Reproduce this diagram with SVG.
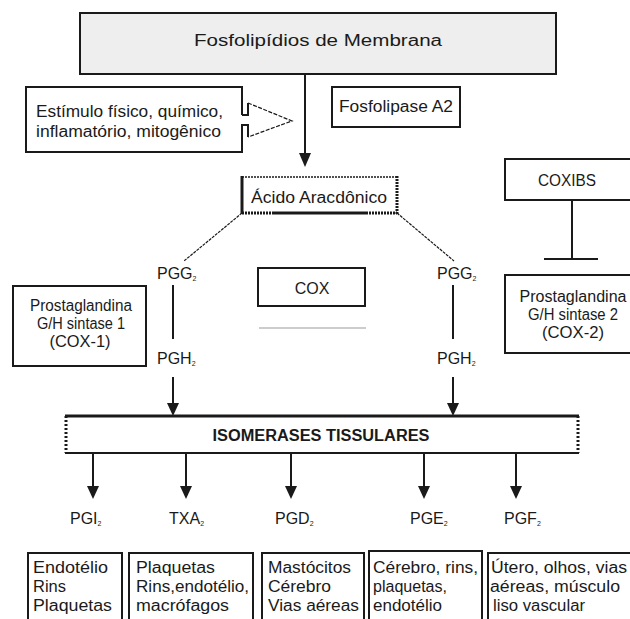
<svg xmlns="http://www.w3.org/2000/svg" width="630" height="619" viewBox="0 0 630 619">
<style>
text{font-family:"Liberation Sans",Arial,sans-serif;fill:#1a1a1a;font-size:16px}
.box{fill:#fff;stroke:#1a1a1a;stroke-width:2}
.ln{stroke:#1a1a1a;stroke-width:2;fill:none}
.thin{stroke:#1a1a1a;stroke-width:1.2;fill:none}
.c{text-anchor:middle}
.sub{font-size:7px}
.bt{font-size:16px}
</style>

<g id="connectors">
<line class="ln" x1="305" y1="74" x2="305" y2="154"/>
<path d="M299,153 L311,153 L305,167 Z" fill="#1a1a1a"/>
<line class="thin" x1="242" y1="213" x2="184" y2="261" stroke-dasharray="3,1"/>
<line class="thin" x1="397" y1="213" x2="454" y2="261" stroke-dasharray="3,1"/>
<line class="ln" x1="173" y1="285" x2="173" y2="339"/>
<line class="ln" x1="453" y1="285" x2="453" y2="339"/>
<line class="ln" x1="173" y1="377" x2="173" y2="404"/>
<path d="M167,403 L179,403 L173,416 Z" fill="#1a1a1a"/>
<line class="ln" x1="453" y1="377" x2="453" y2="404"/>
<path d="M447,403 L459,403 L453,416 Z" fill="#1a1a1a"/>
<line class="ln" x1="572" y1="200" x2="572" y2="259"/>
<line class="ln" x1="544" y1="259" x2="598" y2="259"/>
<line class="ln" x1="93" y1="453" x2="93" y2="487"/>
<path d="M87,486 L99,486 L93,499 Z" fill="#1a1a1a"/>
<line class="ln" x1="186" y1="453" x2="186" y2="487"/>
<path d="M180,486 L192,486 L186,499 Z" fill="#1a1a1a"/>
<line class="ln" x1="291" y1="453" x2="291" y2="487"/>
<path d="M285,486 L297,486 L291,499 Z" fill="#1a1a1a"/>
<line class="ln" x1="424" y1="453" x2="424" y2="487"/>
<path d="M418,486 L430,486 L424,499 Z" fill="#1a1a1a"/>
<line class="ln" x1="516" y1="453" x2="516" y2="487"/>
<path d="M510,486 L522,486 L516,499 Z" fill="#1a1a1a"/>
</g>

<g id="fosfolipidios">
<rect x="80" y="13" width="476" height="61" fill="#eeeeee" stroke="#1a1a1a" stroke-width="2"/>
<text x="318" y="46" class="c" font-size="19" textLength="248" lengthAdjust="spacingAndGlyphs">Fosfolipídios de Membrana</text>
</g>

<g id="estimulo">
<path class="ln" d="M242,115 L242,87 L26,87 L26,152 L242,152 L242,125 L248,125 L248,137 M248,103 L248,115 L242,115"/>
<path class="thin" d="M248,103 L292,121 L248,137" stroke-dasharray="4,1.5"/>
<text x="36" y="117" font-size="16.5" textLength="187" lengthAdjust="spacingAndGlyphs">Estímulo físico, químico,</text>
<text x="36" y="137" font-size="16.5" textLength="185" lengthAdjust="spacingAndGlyphs">inflamatório, mitogênico</text>
</g>

<g id="fosfolipase">
<rect class="box" x="332" y="87" width="128" height="40"/>
<text x="396" y="112" class="c" font-size="16" textLength="114" lengthAdjust="spacingAndGlyphs">Fosfolipase A2</text>
</g>

<g id="acido">
<rect x="242" y="177" width="155" height="36" fill="#fff"/>
<line x1="242" y1="177" x2="397" y2="177" stroke="#1a1a1a" stroke-width="1.5" stroke-dasharray="2,1"/>
<line x1="242" y1="176" x2="242" y2="214" stroke="#1a1a1a" stroke-width="3"/>
<line x1="397" y1="176" x2="397" y2="214" stroke="#1a1a1a" stroke-width="3" stroke-dasharray="2,1"/>
<line x1="242" y1="213" x2="273" y2="213" stroke="#1a1a1a" stroke-width="3" stroke-dasharray="2,1"/>
<line x1="273" y1="213" x2="366" y2="213" stroke="#1a1a1a" stroke-width="3"/>
<line x1="366" y1="213" x2="397" y2="213" stroke="#1a1a1a" stroke-width="3" stroke-dasharray="2,1"/>
<text x="319" y="203" class="c" font-size="16.5" textLength="136" lengthAdjust="spacingAndGlyphs">Ácido Aracdônico</text>
</g>

<g id="coxibs">
<rect class="box" x="505" y="159" width="130" height="41"/>
<text x="567" y="186" class="c" font-size="15" textLength="58" lengthAdjust="spacingAndGlyphs">COXIBS</text>
</g>

<g id="pgg2-left"><text x="157" y="279">PGG<tspan class="sub" dy="2">2</tspan></text></g>
<g id="pgh2-left"><text x="157" y="364">PGH<tspan class="sub" dy="2">2</tspan></text></g>
<g id="pgg2-right"><text x="437" y="279">PGG<tspan class="sub" dy="2">2</tspan></text></g>
<g id="pgh2-right"><text x="437" y="364">PGH<tspan class="sub" dy="2">2</tspan></text></g>

<g id="cox">
<rect class="box" x="258" y="268" width="107" height="38"/>
<text x="312" y="294" class="c" font-size="17">COX</text>
<line x1="259" y1="328" x2="366" y2="328" stroke="#999" stroke-width="1"/>
</g>

<g id="sintase1">
<rect class="box" x="13" y="286" width="133" height="80"/>
<text x="81" y="311" class="c" font-size="15" textLength="102" lengthAdjust="spacingAndGlyphs">Prostaglandina</text>
<text x="81" y="329" class="c" font-size="15" textLength="88" lengthAdjust="spacingAndGlyphs">G/H sintase 1</text>
<text x="80" y="347" class="c" font-size="15" textLength="61" lengthAdjust="spacingAndGlyphs">(COX-1)</text>
</g>

<g id="sintase2">
<rect class="box" x="505" y="275" width="130" height="78"/>
<text x="573" y="302" class="c" font-size="15" textLength="107" lengthAdjust="spacingAndGlyphs">Prostaglandina</text>
<text x="573" y="320" class="c" font-size="15" textLength="90" lengthAdjust="spacingAndGlyphs">G/H sintase 2</text>
<text x="573" y="338" class="c" font-size="15" textLength="62" lengthAdjust="spacingAndGlyphs">(COX-2)</text>
</g>

<g id="isomerases">
<rect x="66" y="416" width="512" height="37" fill="#fff"/>
<line x1="65" y1="416" x2="579" y2="416" stroke="#1a1a1a" stroke-width="3"/>
<line x1="65" y1="453" x2="579" y2="453" stroke="#1a1a1a" stroke-width="2"/>
<line x1="66" y1="416" x2="66" y2="453" stroke="#1a1a1a" stroke-width="3" stroke-dasharray="2,2"/>
<line x1="578" y1="416" x2="578" y2="453" stroke="#1a1a1a" stroke-width="3" stroke-dasharray="2,2"/>
<text x="321" y="441" class="c" font-weight="bold" font-size="16" textLength="217" lengthAdjust="spacingAndGlyphs">ISOMERASES TISSULARES</text>
</g>

<g id="pgi2"><text x="70" y="524">PGI<tspan class="sub" dy="2">2</tspan></text></g>
<g id="txa2"><text x="169" y="524">TXA<tspan class="sub" dy="2">2</tspan></text></g>
<g id="pgd2"><text x="275" y="524">PGD<tspan class="sub" dy="2">2</tspan></text></g>
<g id="pge2"><text x="410" y="524">PGE<tspan class="sub" dy="2">2</tspan></text></g>
<g id="pgf2"><text x="504" y="524">PGF<tspan class="sub" dy="2">2</tspan></text></g>

<g id="box-pgi2">
<rect class="box" x="28" y="553" width="94" height="70"/>
<text x="33" y="573" textLength="75" lengthAdjust="spacingAndGlyphs">Endotélio</text>
<text x="33" y="592" textLength="33" lengthAdjust="spacingAndGlyphs">Rins</text>
<text x="33" y="611" textLength="79" lengthAdjust="spacingAndGlyphs">Plaquetas</text>
</g>
<g id="box-txa2">
<rect class="box" x="129" y="553" width="124" height="70"/>
<text x="136" y="573" textLength="79" lengthAdjust="spacingAndGlyphs">Plaquetas</text>
<text x="136" y="592" textLength="113" lengthAdjust="spacingAndGlyphs">Rins,endotélio,</text>
<text x="136" y="611" textLength="93" lengthAdjust="spacingAndGlyphs">macrófagos</text>
</g>
<g id="box-pgd2">
<rect class="box" x="262" y="553" width="102" height="70"/>
<text x="268" y="573" textLength="83" lengthAdjust="spacingAndGlyphs">Mastócitos</text>
<text x="268" y="592" textLength="63" lengthAdjust="spacingAndGlyphs">Cérebro</text>
<text x="268" y="611" textLength="91" lengthAdjust="spacingAndGlyphs">Vias aéreas</text>
</g>
<g id="box-pge2">
<rect class="box" x="369" y="551" width="113" height="72"/>
<text x="373" y="573" textLength="105" lengthAdjust="spacingAndGlyphs">Cérebro, rins,</text>
<text x="373" y="592" textLength="74" lengthAdjust="spacingAndGlyphs">plaquetas,</text>
<text x="373" y="611" textLength="69" lengthAdjust="spacingAndGlyphs">endotélio</text>
</g>
<g id="box-pgf2">
<rect class="box" x="488" y="553" width="150" height="70"/>
<text x="491" y="573" textLength="136" lengthAdjust="spacingAndGlyphs">Útero, olhos, vias</text>
<text x="490" y="592" textLength="130" lengthAdjust="spacingAndGlyphs">aéreas, músculo</text>
<text x="493" y="611" textLength="92" lengthAdjust="spacingAndGlyphs">liso vascular</text>
</g>
</svg>
